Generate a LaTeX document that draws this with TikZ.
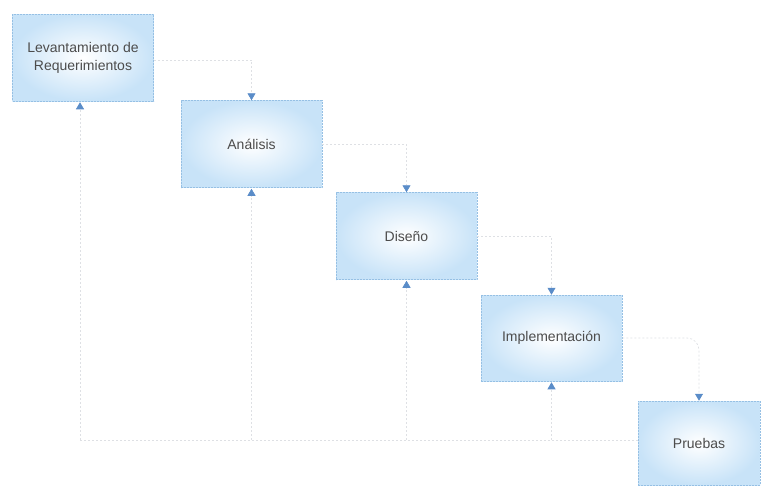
\documentclass[tikz,border=0pt]{standalone}
\usepackage{fontspec}
\setmainfont{Liberation Sans}
\usetikzlibrary{arrows.meta}
\definecolor{boxblue}{RGB}{200,227,248}
\definecolor{boxedge}{RGB}{150,192,228}
\definecolor{arrowblue}{RGB}{90,140,200}
\definecolor{linegray}{RGB}{222,224,228}
\tikzset{
  stagebox/.style={draw=boxedge, dashed, dash pattern=on 2pt off 1pt, line width=0.5pt,
    inner color=white, outer color=boxblue, minimum width=141pt, minimum height=87pt, inner sep=0pt,
    align=center, font=\fontsize{14}{18}\selectfont, text=black!70},
  flowline/.style={draw=linegray, line width=0.7pt, dash pattern=on 2pt off 2pt,
    -{Triangle[width=8pt,length=7pt,color=arrowblue]}},
  plainline/.style={draw=linegray, line width=0.7pt, dash pattern=on 2pt off 2pt}
}
\begin{document}
\begin{tikzpicture}[x=1pt,y=-1pt]
\useasboundingbox (0,0) rectangle (768,485);
\node[stagebox] (L) at (83,57.5) {Levantamiento de\\Requerimientos};
\node[stagebox] (A) at (251.5,144) {Análisis};
\node[stagebox] (D) at (406.5,236) {Diseño};
\node[stagebox, minimum height=86pt] (I) at (551.5,338) {Implementación};
\node[stagebox, minimum width=122pt, minimum height=84pt] (P) at (699,443) {Pruebas};
% forward flow
\draw[flowline] (L.east |- 0,60) -| (A.north);
\draw[flowline] (A.east) -| (D.north);
\draw[flowline] (D.east) -| (I.north);
\draw[flowline, rounded corners=12pt] (I.east) -| (P.north);
% feedback
\coordinate (fb) at (80,440);
\draw[plainline] (P.west |- fb) -- (fb);
\draw[flowline, shorten >=1pt] (fb) -- (fb |- L.south);
\draw[flowline, shorten >=1pt] (A.south |- fb) -- (A.south);
\draw[flowline, shorten >=1pt] (D.south |- fb) -- (D.south);
\draw[flowline, shorten >=1pt] (I.south |- fb) -- (I.south);
\end{tikzpicture}
\end{document}
